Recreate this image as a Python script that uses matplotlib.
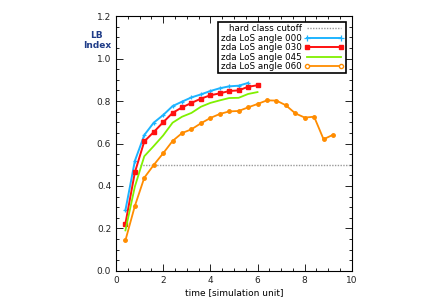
import matplotlib
matplotlib.use("Agg")
import matplotlib.pyplot as plt
from matplotlib.ticker import MultipleLocator

t000 = [0.4, 0.8, 1.2, 1.6, 2.0, 2.4, 2.8, 3.2, 3.6, 4.0, 4.4, 4.8, 5.2, 5.6]
v000 = [0.286, 0.518, 0.640, 0.698, 0.734, 0.776, 0.797, 0.817, 0.831, 0.847, 0.860, 0.869, 0.872, 0.885]

t030 = [0.4, 0.8, 1.2, 1.6, 2.0, 2.4, 2.8, 3.2, 3.6, 4.0, 4.4, 4.8, 5.2, 5.6, 6.0]
v030 = [0.223, 0.464, 0.610, 0.654, 0.700, 0.744, 0.770, 0.791, 0.811, 0.827, 0.836, 0.847, 0.850, 0.867, 0.874]

t045 = [0.4, 0.8, 1.2, 1.6, 2.0, 2.4, 2.8, 3.2, 3.6, 4.0, 4.4, 4.8, 5.2, 5.6, 6.0]
v045 = [0.191, 0.397, 0.540, 0.588, 0.638, 0.698, 0.726, 0.744, 0.773, 0.791, 0.803, 0.814, 0.815, 0.833, 0.842]

t060 = [0.4, 0.8, 1.2, 1.6, 2.0, 2.4, 2.8, 3.2, 3.6, 4.0, 4.4, 4.8, 5.2, 5.6, 6.0,
        6.4, 6.8, 7.2, 7.6, 8.0, 8.4, 8.8, 9.2]
v060 = [0.144, 0.306, 0.439, 0.499, 0.554, 0.612, 0.649, 0.667, 0.695, 0.720, 0.739, 0.751,
        0.753, 0.770, 0.786, 0.803, 0.802, 0.780, 0.742, 0.722, 0.726, 0.620, 0.641]

cutoff_x = [1.0, 10.0]
cutoff_y = [0.5, 0.5]

fig = plt.figure(figsize=(4.32, 3.05), dpi=100)
ax = fig.add_axes([0.2685, 0.1115, 0.546, 0.836])

ax.plot(cutoff_x, cutoff_y, color="#999999", linestyle=(0, (1, 1)), linewidth=1.0,
        label="hard class cutoff")
ax.plot(t000, v000, color="#1EB4FF", marker="+", markersize=3.5, markeredgewidth=0.9,
        linewidth=1.4, label="zda LoS angle 000")
ax.plot(t030, v030, color="#FF1010", marker="s", markersize=2.5,
        linewidth=1.4, label="zda LoS angle 030")
ax.plot(t045, v045, color="#80F000", linewidth=1.3, label="zda LoS angle 045")
ax.plot(t060, v060, color="#FF8C00", marker="o", markersize=2.5,
        linewidth=1.3, label="zda LoS angle 060")

ax.set_xlim(0, 10)
ax.set_ylim(0, 1.2)
ax.xaxis.set_major_locator(MultipleLocator(2))
ax.xaxis.set_minor_locator(MultipleLocator(0.5))
ax.yaxis.set_major_locator(MultipleLocator(0.2))
ax.yaxis.set_minor_locator(MultipleLocator(0.05))
ax.xaxis.set_major_formatter(matplotlib.ticker.FormatStrFormatter("%d"))
ax.yaxis.set_major_formatter(matplotlib.ticker.FormatStrFormatter("%.1f"))
ax.tick_params(which="both", direction="in", top=True, right=True, labelsize=6.5,
               colors="#222222", width=0.7)
ax.tick_params(which="major", length=5)
ax.tick_params(which="minor", length=2.5)
for s in ax.spines.values():
    s.set_linewidth(0.8)

ax.set_xlabel("time [simulation unit]", fontsize=6.5, labelpad=2)
fig.text(0.224, 0.867, "LB\nIndex", color="#1F3C88", fontsize=6.5, fontweight="bold",
         ha="center", va="center", linespacing=1.25)

leg = ax.legend(loc="upper right", fontsize=6.3, frameon=True, fancybox=False,
                edgecolor="black", framealpha=1, borderpad=0.25, labelspacing=0.05,
                handlelength=4.5, handletextpad=0.3, markerfirst=False, numpoints=2,
                borderaxespad=0.7)
leg.get_frame().set_linewidth(1.2)
handles = leg.legend_handles
handles[4].set_markerfacecolor("white")
handles[4].set_markersize(3)
handles[2].set_markersize(3.5)
handles[1].set_markersize(5)

fig.savefig("out.png", dpi=100)
